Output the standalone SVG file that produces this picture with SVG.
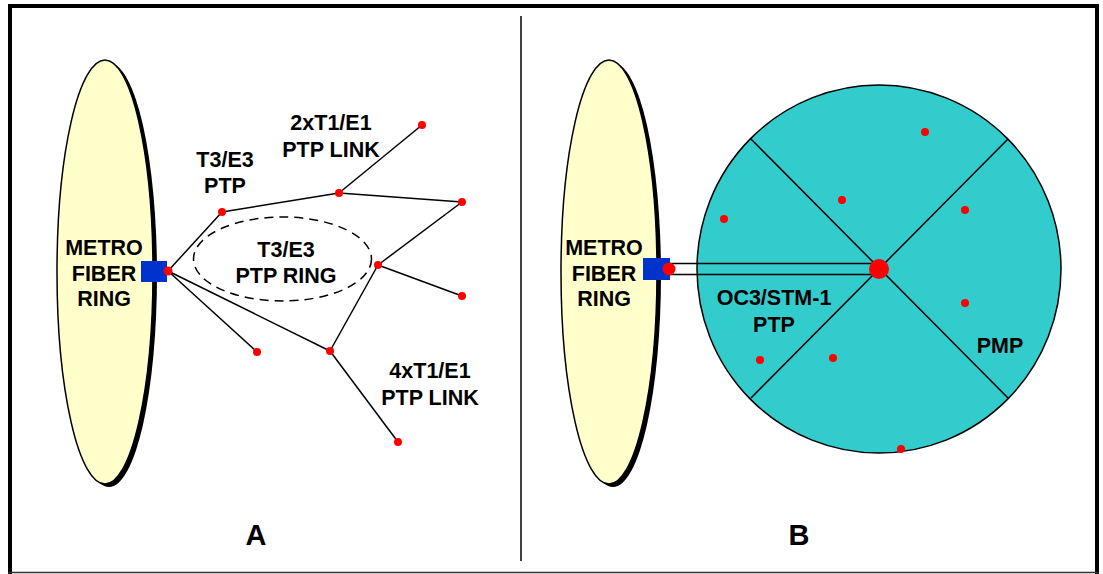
<svg xmlns="http://www.w3.org/2000/svg" width="1103" height="574" viewBox="0 0 1103 574">
  <defs>
    <style>
      .lbl { font-family: "Liberation Sans", Arial, sans-serif; font-weight: bold; font-size: 21.5px; fill: #000; text-anchor: middle; }
      .big { font-family: "Liberation Sans", Arial, sans-serif; font-weight: bold; font-size: 29px; fill: #000; text-anchor: middle; }
      .link { stroke: #000; stroke-width: 1.5; fill: none; }
      .dot { fill: #FF0000; }
      .ring { fill: #FFFFCC; stroke: #000; stroke-width: 1.5; }
      .shadow { fill: #000; }
      .port { fill: #0033CC; }
    </style>
  </defs>

  <rect x="0" y="0" width="1103" height="574" fill="#FFFFFF"/>

  <!-- frame -->
  <g id="frame">
    <line x1="8" y1="6" x2="1099" y2="6" stroke="#000" stroke-width="4"/>
    <line x1="10" y1="4" x2="10" y2="574" stroke="#000" stroke-width="4"/>
    <line x1="1097" y1="4" x2="1097" y2="574" stroke="#000" stroke-width="4"/>
    <line x1="8" y1="572.5" x2="1099" y2="572.5" stroke="#333" stroke-width="1.5"/>
    <line x1="521" y1="16" x2="521" y2="561" stroke="#000" stroke-width="1.5"/>
  </g>

  <!-- panel A -->
  <g id="ringA">
    <ellipse class="shadow" cx="109" cy="275" rx="48" ry="212"/>
    <ellipse class="ring" cx="105" cy="272" rx="48" ry="212"/>
    <text class="lbl" x="104" y="255">METRO</text>
    <text class="lbl" x="104" y="281">FIBER</text>
    <text class="lbl" x="104" y="306">RING</text>
  </g>
  <rect id="portA" class="port" x="141" y="261" width="26" height="21"/>

  <g id="connectorsA">
    <ellipse cx="282.5" cy="259" rx="89" ry="42" fill="none" stroke="#000" stroke-width="1.5" stroke-dasharray="9,6"/>
    <line class="link" x1="168" y1="271" x2="222" y2="212"/>
    <line class="link" x1="222" y1="212" x2="339" y2="193"/>
    <line class="link" x1="339" y1="193" x2="422" y2="125"/>
    <line class="link" x1="339" y1="193" x2="462" y2="202"/>
    <line class="link" x1="462" y1="202" x2="378" y2="265"/>
    <line class="link" x1="378" y1="265" x2="462" y2="296"/>
    <line class="link" x1="378" y1="265" x2="330" y2="351"/>
    <line class="link" x1="168" y1="271" x2="330" y2="351"/>
    <line class="link" x1="168" y1="271" x2="257" y2="352"/>
    <line class="link" x1="330" y1="351" x2="398" y2="442"/>
  </g>

  <g id="nodesA">
    <circle id="hubA" class="dot" cx="168" cy="271" r="4.5"/>
    <circle id="a1" class="dot" cx="222" cy="212" r="4"/>
    <circle id="a2" class="dot" cx="339" cy="193" r="4"/>
    <circle id="a3" class="dot" cx="422" cy="125" r="4"/>
    <circle id="a4" class="dot" cx="462" cy="202" r="4"/>
    <circle id="a5" class="dot" cx="378" cy="265" r="4"/>
    <circle id="a6" class="dot" cx="462" cy="296" r="4"/>
    <circle id="a7" class="dot" cx="330" cy="351" r="4"/>
    <circle id="a8" class="dot" cx="257" cy="352" r="4"/>
    <circle id="a9" class="dot" cx="398" cy="442" r="4"/>
  </g>

  <g id="labelsA">
    <text class="lbl" x="225" y="167">T3/E3</text>
    <text class="lbl" x="225" y="193">PTP</text>
    <text class="lbl" x="331" y="130">2xT1/E1</text>
    <text class="lbl" x="331" y="157">PTP LINK</text>
    <text class="lbl" x="286" y="257">T3/E3</text>
    <text class="lbl" x="286" y="283">PTP RING</text>
    <text class="lbl" x="430" y="378">4xT1/E1</text>
    <text class="lbl" x="430" y="405">PTP LINK</text>
    <text class="big" x="256" y="545">A</text>
  </g>

  <!-- panel B -->
  <g id="ringB">
    <ellipse class="shadow" cx="613" cy="275" rx="48" ry="212"/>
    <ellipse class="ring" cx="609" cy="272" rx="48" ry="212"/>
    <text class="lbl" x="604" y="255">METRO</text>
    <text class="lbl" x="604" y="281">FIBER</text>
    <text class="lbl" x="604" y="306">RING</text>
  </g>

  <g id="pmpArea">
    <ellipse cx="879" cy="269" rx="182" ry="184" fill="#33CCCC" stroke="#000" stroke-width="1.5"/>
    <line class="link" x1="751" y1="139" x2="1008" y2="398"/>
    <line class="link" x1="1008" y1="139" x2="751" y2="398"/>
  </g>

  <rect id="portB" class="port" x="643" y="258" width="27" height="22"/>

  <g id="connectorsB">
    <line class="link" x1="669" y1="263.5" x2="879" y2="263.5"/>
    <line class="link" x1="669" y1="274.5" x2="879" y2="274.5"/>
  </g>

  <g id="nodesB">
    <circle id="hubB" class="dot" cx="669" cy="269" r="6.5"/>
    <circle id="base" class="dot" cx="879" cy="269" r="10"/>
    <circle id="b1" class="dot" cx="925" cy="132" r="4"/>
    <circle id="b2" class="dot" cx="842" cy="200" r="4"/>
    <circle id="b3" class="dot" cx="724" cy="219" r="4"/>
    <circle id="b4" class="dot" cx="965" cy="210" r="4"/>
    <circle id="b5" class="dot" cx="965" cy="303" r="4"/>
    <circle id="b6" class="dot" cx="760" cy="360" r="4"/>
    <circle id="b7" class="dot" cx="833" cy="358" r="4"/>
    <circle id="b8" class="dot" cx="901" cy="449" r="4"/>
  </g>

  <g id="labelsB">
    <text class="lbl" x="774" y="305">OC3/STM-1</text>
    <text class="lbl" x="774" y="332">PTP</text>
    <text class="lbl" x="1000" y="353">PMP</text>
    <text class="big" x="799" y="545">B</text>
  </g>
</svg>
